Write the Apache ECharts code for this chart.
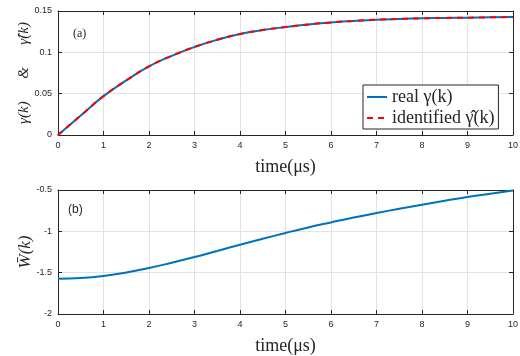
<!DOCTYPE html>
<html>
<head>
<meta charset="utf-8">
<script src="https://cdn.jsdelivr.net/npm/echarts@6/dist/echarts.min.js"></script>
<style>
  html, body { margin: 0; padding: 0; background: #fff; }
  #main { width: 520px; height: 356px; }
</style>
</head>
<body>
<div id="main"></div>
<script>
// time axis (us)
const timeUs = [0, 0.5, 1, 1.5, 2, 2.5, 3, 3.5, 4, 4.5, 5, 5.5, 6, 6.5, 7, 7.5, 8, 8.5, 9, 9.5, 10];
// (a) real and identified gamma(k)
const gammaReal = [0, 0.0235, 0.047, 0.066, 0.083, 0.0958, 0.1065, 0.1152, 0.1222, 0.127, 0.1306,
  0.1337, 0.1362, 0.138, 0.1395, 0.1404, 0.1411, 0.1416, 0.1419, 0.1423, 0.1427];
const gammaIdent = [0, 0.0235, 0.047, 0.066, 0.083, 0.0958, 0.1065, 0.1152, 0.1222, 0.127, 0.1306,
  0.1337, 0.1362, 0.138, 0.1395, 0.1404, 0.1411, 0.1416, 0.1419, 0.1423, 0.1427];
// (b) W bar(k)
const wBar = [-1.573, -1.565, -1.54, -1.497, -1.444, -1.38, -1.311, -1.237, -1.162, -1.09, -1.02,
  -0.953, -0.892, -0.833, -0.779, -0.727, -0.678, -0.63, -0.585, -0.545, -0.507];

const pairs = (ys) => timeUs.map((t, i) => [t, ys[i]]);

const dark = '#262626';
const gridCol = '#e3e3e3';
const serif = '"Liberation Serif", "DejaVu Serif", serif';
const sans = '"Liberation Sans", Arial, sans-serif';

// main axis (with labels) and a mirror axis for the box ticks
function xAx(gi, mirror) {
  return {
    type: 'value', gridIndex: gi, min: 0, max: 10, interval: 1,
    position: mirror ? 'top' : 'bottom',
    name: mirror ? '' : 'time(μs)',
    nameLocation: 'middle', nameGap: 23,
    nameTextStyle: { fontFamily: serif, fontSize: 18, color: dark },
    axisLine: { show: true, onZero: false, lineStyle: { color: dark, width: 1 } },
    axisTick: { show: true, inside: true, length: 4, lineStyle: { color: dark } },
    axisLabel: { show: !mirror, color: dark, fontFamily: sans, fontSize: 9, margin: 6 },
    splitLine: { show: !mirror, lineStyle: { color: gridCol } }
  };
}
function yAx(gi, mirror, min, max, step, name, nameSize, gap) {
  return {
    type: 'value', gridIndex: gi, min: min, max: max, interval: step,
    position: mirror ? 'right' : 'left',
    name: mirror ? '' : name,
    nameLocation: 'middle', nameGap: gap || 15, nameMoveOverlap: false,
    nameTextStyle: { fontFamily: serif, fontSize: nameSize || 15, fontStyle: 'italic', color: dark },
    axisLine: { show: true, onZero: false, lineStyle: { color: dark, width: 1 } },
    axisTick: { show: true, inside: true, length: 4, lineStyle: { color: dark } },
    axisLabel: { show: !mirror, color: dark, fontFamily: sans, fontSize: 9, margin: 6 },
    splitLine: { show: !mirror, lineStyle: { color: gridCol } }
  };
}

const chart = echarts.init(document.getElementById('main'), null, { renderer: 'canvas' });
chart.setOption({
  backgroundColor: '#fff',
  animation: false,
  grid: [
    { left: 58, right: 7, top: 11, height: 124, outerBoundsMode: 'none', containLabel: false },
    { left: 58, right: 7, top: 190, height: 124, outerBoundsMode: 'none', containLabel: false }
  ],
  xAxis: [xAx(0, false), xAx(0, true), xAx(1, false), xAx(1, true)],
  yAxis: [
    yAx(0, false, 0, 0.15, 0.05, 'γ(k)      &      γ̂(k)', 15, 26),
    yAx(0, true, 0, 0.15, 0.05, ''),
    yAx(1, false, -2, -0.5, 0.5, 'W̄(k)', 17, 24),
    yAx(1, true, -2, -0.5, 0.5, '')
  ],
  legend: {
    orient: 'vertical', left: 363, top: 85,
    itemWidth: 20, itemHeight: 12, itemGap: 3,
    padding: [3, 4, 2, 3],
    borderColor: dark, borderWidth: 1, backgroundColor: '#fff',
    itemStyle: { opacity: 0 },
    textStyle: { fontFamily: serif, fontSize: 18, color: dark },
    data: ['real γ(k)', 'identified γ̂(k)']
  },
  graphic: [
    { type: 'text', left: 73, top: 28, style: { text: '(a)', font: '12px ' + serif, fill: dark } },
    { type: 'text', left: 68, top: 204, style: { text: '(b)', font: '12px ' + sans, fill: dark } }
  ],
  series: [
    {
      name: 'real γ(k)', type: 'line', xAxisIndex: 0, yAxisIndex: 0,
      data: pairs(gammaReal), smooth: true, symbol: 'none',
      lineStyle: { color: '#0072BD', width: 2 }, itemStyle: { color: '#0072BD' }
    },
    {
      name: 'identified γ̂(k)', type: 'line', xAxisIndex: 0, yAxisIndex: 0,
      data: pairs(gammaIdent), smooth: true, symbol: 'none',
      lineStyle: { color: '#FF0000', width: 2, type: [6, 5] }, itemStyle: { color: '#FF0000' }
    },
    {
      name: 'W', type: 'line', xAxisIndex: 2, yAxisIndex: 2,
      data: pairs(wBar), smooth: true, symbol: 'none',
      lineStyle: { color: '#0072BD', width: 2 }, itemStyle: { color: '#0072BD' }
    }
  ]
});
</script>
</body>
</html>
